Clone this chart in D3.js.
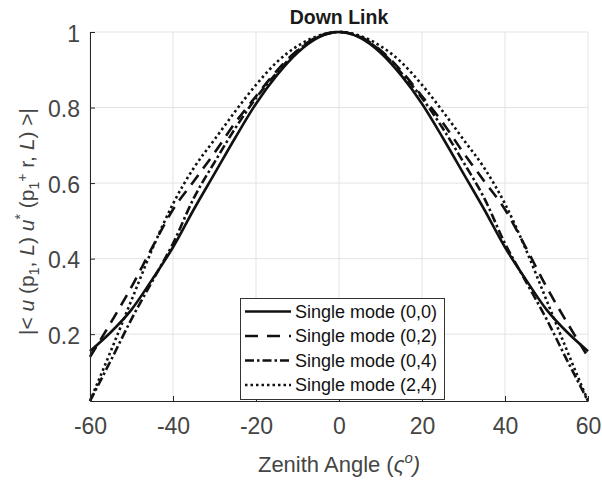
<!DOCTYPE html>
<html>
<head>
<meta charset="utf-8">
<script src="https://cdn.jsdelivr.net/npm/d3@7"></script>
<style>
  html, body { margin: 0; padding: 0; background: #fff; }
  svg { display: block; font-family: "Liberation Sans", Arial, Helvetica, sans-serif; }
</style>
</head>
<body>
<svg id="chart" width="602" height="480"></svg>
<script>
// ---- data ----
const angles = [-60,-55,-50,-45,-40,-35,-30,-25,-20,-15,-10,-5,0,5,10,15,20,25,30,35,40,45,50,55,60];
const mode00 = [0.155,0.205,0.265,0.345,0.43,0.53,0.625,0.72,0.81,0.885,0.945,0.985,1,0.985,0.945,0.885,0.81,0.72,0.625,0.53,0.43,0.345,0.265,0.205,0.155];
const mode02 = [0.14,0.23,0.325,0.43,0.53,0.605,0.68,0.76,0.83,0.897,0.952,0.988,1,0.988,0.952,0.897,0.83,0.76,0.68,0.605,0.53,0.43,0.325,0.23,0.14];
const mode04 = [0.023,0.13,0.24,0.34,0.44,0.56,0.655,0.745,0.825,0.892,0.95,0.987,1,0.987,0.95,0.892,0.825,0.745,0.655,0.56,0.44,0.34,0.24,0.13,0.023];
const mode24 = [0.023,0.155,0.29,0.425,0.545,0.64,0.715,0.79,0.86,0.92,0.963,0.99,1,0.99,0.963,0.92,0.86,0.79,0.715,0.64,0.545,0.425,0.29,0.155,0.023];
const seriesNames = ["Single mode (0,0)","Single mode (0,2)","Single mode (0,4)","Single mode (2,4)"];
const xTicks = [-60,-40,-20,0,20,40,60];
const yTicks = [0.2,0.4,0.6,0.8,1];
const titleText = "Down Link";

// ---- styles ----
const dashes = [null, "12,8", "9,3,2.5,3", "2.5,3"];
const legendDashes = [null, "13,9", "9,3,2.5,3", "2.5,3"];
const axisColor = "#262626";
const labelColor = "#454545";

const svg = d3.select("#chart");
const L = 90, R = 588, T = 32, B = 401;
const yMin = d3.min([mode00, mode02, mode04, mode24].flat());
const x = d3.scaleLinear().domain([-60, 60]).range([L, R]);
const y = d3.scaleLinear().domain([yMin, 1]).range([B, T]);

// grid
const grid = svg.append("g");
grid.selectAll("line.gx").data(xTicks).join("line")
  .attr("x1", d => x(d)).attr("x2", d => x(d)).attr("y1", T).attr("y2", B)
  .attr("stroke", "#e3e3e3").attr("stroke-width", 1);
grid.selectAll("line.gy").data(yTicks).join("line")
  .attr("x1", L).attr("x2", R).attr("y1", d => y(d)).attr("y2", d => y(d))
  .attr("stroke", "#e3e3e3").attr("stroke-width", 1);

// curves
const allSeries = [mode00, mode02, mode04, mode24];
const line = d3.line().x((d, i) => x(angles[i])).y(d => y(d)).curve(d3.curveMonotoneX);
const curves = svg.append("g");
allSeries.forEach((s, k) => {
  curves.append("path").datum(s)
    .attr("d", line)
    .attr("fill", "none")
    .attr("stroke", "#111")
    .attr("stroke-width", 2.6)
    .attr("stroke-dasharray", dashes[k]);
});

// axes
const xAxis = d3.axisBottom(x).tickValues(xTicks).tickSize(-5).tickSizeOuter(0).tickPadding(17)
  .tickFormat(d => String(d));
const gx = svg.append("g").attr("transform", `translate(0,${B})`).call(xAxis);
gx.select(".domain").attr("stroke", axisColor);
gx.selectAll(".tick line").attr("stroke", axisColor);
gx.selectAll(".tick text").attr("fill", labelColor).attr("font-size", 23)
  .attr("font-family", "Liberation Sans, Arial, sans-serif");

const yAxis = d3.axisLeft(y).tickValues(yTicks).tickSize(-5).tickSizeOuter(0).tickPadding(10)
  .tickFormat(d => String(d));
const gy = svg.append("g").attr("transform", `translate(${L},0)`).call(yAxis);
gy.select(".domain").attr("stroke", axisColor);
gy.selectAll(".tick line").attr("stroke", axisColor);
gy.selectAll(".tick text").attr("fill", labelColor).attr("font-size", 23).attr("dy", "0.4em")
  .attr("font-family", "Liberation Sans, Arial, sans-serif");

// title
svg.append("text").attr("x", (L + R) / 2).attr("y", 24)
  .attr("text-anchor", "middle").attr("font-weight", "bold").attr("font-size", 19.5)
  .attr("fill", "#1a1a1a").text(titleText);

// x label
const xl = svg.append("text").attr("x", (L + R) / 2).attr("y", 472)
  .attr("text-anchor", "middle").attr("font-size", 22).attr("fill", labelColor);
xl.append("tspan").text("Zenith Angle (");
xl.append("tspan").attr("font-style", "italic").text("ς");
xl.append("tspan").attr("font-style", "italic").attr("font-size", 15).attr("dy", -9).text("o");
xl.append("tspan").attr("font-style", "italic").attr("dy", 9).text(")");

// y label
const yl = svg.append("text")
  .attr("transform", `translate(34,${(T + B) / 2 + 5}) rotate(-90)`)
  .attr("text-anchor", "middle").attr("font-size", 21).attr("fill", labelColor);
yl.append("tspan").text("|< ");
yl.append("tspan").attr("font-style", "italic").text("u");
yl.append("tspan").text(" (p");
yl.append("tspan").attr("font-size", 14).attr("dy", 5).text("1");
yl.append("tspan").attr("dy", -5).text(", ");
yl.append("tspan").attr("font-style", "italic").text("L");
yl.append("tspan").text(") ");
yl.append("tspan").attr("font-style", "italic").text("u");
yl.append("tspan").attr("font-size", 14).attr("dy", -9).text("*");
yl.append("tspan").attr("dy", 9).text(" (p");
yl.append("tspan").attr("font-size", 14).attr("dy", 5).text("1");
yl.append("tspan").attr("font-size", 14).attr("dy", -12).text("+");
yl.append("tspan").attr("dy", 7).text(" r, ");
yl.append("tspan").attr("font-style", "italic").text("L");
yl.append("tspan").text(") >|");

// legend
const lg = svg.append("g");
lg.append("rect").attr("x", 240.5).attr("y", 298.5).attr("width", 204).attr("height", 101)
  .attr("fill", "#fff").attr("stroke", "#333").attr("stroke-width", 1);
seriesNames.forEach((name, k) => {
  const cy = 311.5 + k * 24.5;
  lg.append("line").attr("x1", 245).attr("x2", 291).attr("y1", cy).attr("y2", cy)
    .attr("stroke", "#111").attr("stroke-width", 2.6).attr("stroke-dasharray", legendDashes[k]);
  lg.append("text").attr("x", 295).attr("y", cy).attr("dy", "0.35em")
    .attr("font-size", 18).attr("fill", "#111").text(name);
});
</script>
</body>
</html>
